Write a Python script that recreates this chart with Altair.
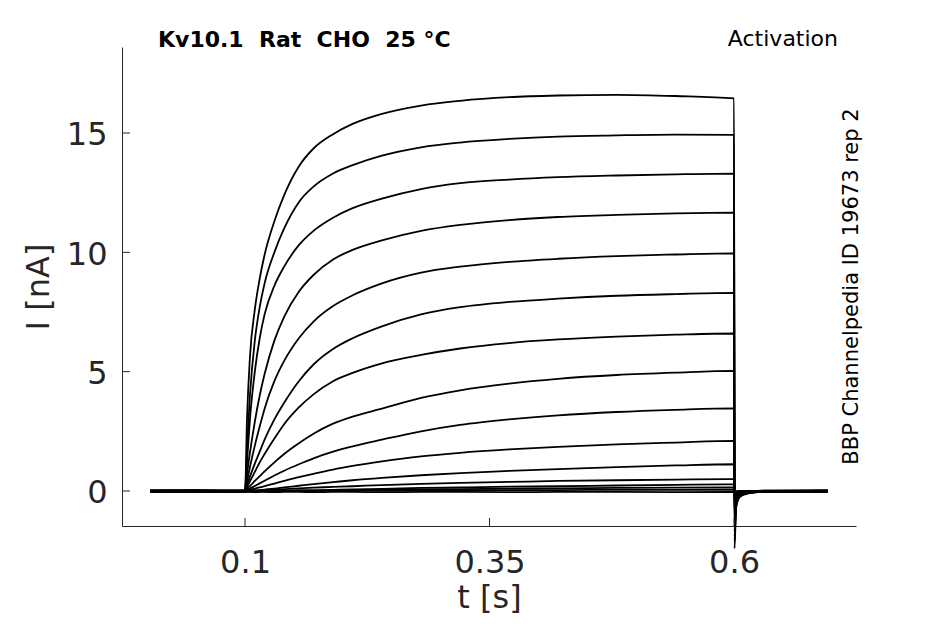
import altair as alt
import pandas as pd

# time grid in seconds (shared by all sweeps)
time_s = [0.003, 0.05, 0.1, 0.102, 0.105, 0.11, 0.115, 0.12, 0.13, 0.14, 0.155, 0.17, 0.19, 0.21,
          0.24, 0.28, 0.32, 0.37, 0.42, 0.48, 0.54, 0.6, 0.6005, 0.602, 0.604, 0.607, 0.612, 0.62,
          0.63, 0.696]

# current in nA, one list per sweep
sweep_01 = [0.00, 0.01, 0.00, 3.0, 5.6, 7.6, 8.9, 9.9, 11.3, 12.4, 13.6, 14.35, 14.95, 15.38, 15.8, 16.15, 16.35, 16.5, 16.57, 16.6, 16.55, 16.45, -2.4, -0.75, -0.38, -0.22, -0.13, -0.07, -0.03, 0.00]
sweep_02 = [-0.02, -0.01, -0.02, 1.8, 4.0, 6.3, 7.7, 8.7, 10.0, 11.0, 12.1, 12.75, 13.3, 13.65, 14.05, 14.4, 14.6, 14.75, 14.85, 14.9, 14.93, 14.92, -2.1, -0.68, -0.35, -0.2, -0.12, -0.06, -0.03, -0.02]
sweep_03 = [0.01, 0.02, 0.01, 1.2, 3.0, 5.0, 6.4, 7.4, 8.6, 9.4, 10.3, 10.9, 11.45, 11.85, 12.25, 12.65, 12.9, 13.05, 13.15, 13.22, 13.27, 13.3, -1.9, -0.62, -0.32, -0.18, -0.11, -0.06, -0.02, 0.01]
sweep_04 = [-0.03, -0.02, -0.03, 0.7, 1.6, 2.9, 4.0, 4.9, 6.3, 7.3, 8.35, 9.05, 9.7, 10.1, 10.5, 10.9, 11.15, 11.35, 11.48, 11.57, 11.63, 11.66, -1.7, -0.55, -0.28, -0.16, -0.1, -0.05, -0.03, -0.03]
sweep_05 = [0.02, 0.01, 0.02, 0.4, 1.0, 1.9, 2.7, 3.45, 4.6, 5.45, 6.4, 7.1, 7.75, 8.2, 8.7, 9.15, 9.4, 9.6, 9.73, 9.84, 9.91, 9.96, -1.5, -0.48, -0.25, -0.15, -0.09, -0.04, 0.0, 0.02]
sweep_06 = [-0.01, 0.0, -0.01, 0.25, 0.6, 1.15, 1.65, 2.15, 3.0, 3.7, 4.6, 5.3, 5.95, 6.4, 6.9, 7.4, 7.7, 7.92, 8.06, 8.18, 8.25, 8.3, -1.3, -0.42, -0.22, -0.13, -0.08, -0.04, -0.02, -0.01]
sweep_07 = [-0.04, -0.03, -0.04, 0.15, 0.4, 0.8, 1.2, 1.55, 2.2, 2.8, 3.5, 4.05, 4.6, 4.95, 5.35, 5.7, 5.97, 6.2, 6.35, 6.47, 6.55, 6.6, -1.1, -0.36, -0.19, -0.12, -0.08, -0.05, -0.04, -0.04]
sweep_08 = [0.0, 0.01, 0.0, 0.08, 0.2, 0.42, 0.62, 0.82, 1.2, 1.55, 2.0, 2.4, 2.82, 3.12, 3.45, 3.9, 4.22, 4.5, 4.7, 4.86, 4.96, 5.03, -0.9, -0.3, -0.16, -0.1, -0.06, -0.03, -0.01, 0.0]
sweep_09 = [0.02, 0.03, 0.02, 0.04, 0.1, 0.21, 0.32, 0.43, 0.65, 0.85, 1.12, 1.37, 1.65, 1.87, 2.15, 2.5, 2.77, 3.0, 3.17, 3.31, 3.4, 3.46, -0.7, -0.24, -0.13, -0.08, -0.04, -0.01, 0.01, 0.02]
sweep_10 = [-0.02, -0.01, -0.02, 0.02, 0.05, 0.1, 0.15, 0.2, 0.31, 0.42, 0.58, 0.72, 0.9, 1.05, 1.24, 1.45, 1.6, 1.74, 1.85, 1.95, 2.03, 2.1, -0.5, -0.18, -0.1, -0.06, -0.04, -0.03, -0.02, -0.02]
sweep_11 = [-0.05, -0.04, -0.02, -0.01, 0.0, 0.02, 0.04, 0.06, 0.1, 0.15, 0.22, 0.29, 0.37, 0.45, 0.55, 0.66, 0.75, 0.84, 0.92, 1.0, 1.07, 1.12, -0.35, -0.14, -0.09, -0.07, -0.06, -0.05, -0.05, -0.05]
sweep_12 = [0.01, 0.02, 0.01, 0.01, 0.01, 0.02, 0.03, 0.04, 0.06, 0.08, 0.11, 0.14, 0.17, 0.2, 0.25, 0.3, 0.34, 0.38, 0.42, 0.45, 0.48, 0.5, -0.2, -0.08, -0.04, -0.02, -0.01, 0.0, 0.01, 0.01]
sweep_13 = [-0.03, -0.02, -0.03, -0.03, -0.03, -0.02, -0.02, -0.01, 0.0, 0.01, 0.02, 0.03, 0.05, 0.07, 0.09, 0.13, 0.15, 0.18, 0.2, 0.23, 0.26, 0.28, -0.12, -0.06, -0.04, -0.03, -0.03, -0.03, -0.03, -0.03]
sweep_14 = [0.0, 0.01, 0.0, 0.0, 0.0, 0.0, 0.0, 0.0, 0.01, 0.01, 0.02, 0.02, 0.03, 0.04, 0.05, 0.07, 0.08, 0.1, 0.11, 0.13, 0.14, 0.15, -0.06, -0.02, -0.01, 0.0, 0.0, 0.0, 0.0, 0.0]
sweep_15 = [-0.01, 0.0, -0.01, -0.01, -0.01, -0.01, -0.01, -0.01, -0.01, 0.0, 0.0, 0.0, 0.01, 0.01, 0.02, 0.02, 0.03, 0.04, 0.04, 0.05, 0.05, 0.06, -0.03, -0.02, -0.01, -0.01, -0.01, -0.01, -0.01, -0.01]
sweep_16 = [-0.04, -0.05, -0.04, -0.04, -0.04, -0.05, -0.04, -0.04, -0.05, -0.04, -0.04, -0.05, -0.04, -0.04, -0.05, -0.04, -0.04, -0.05, -0.04, -0.04, -0.05, -0.04, -0.06, -0.05, -0.04, -0.04, -0.05, -0.04, -0.04, -0.05]

x_ticks = [0.1, 0.35, 0.6]
y_ticks = [0, 5, 10, 15]
x_domain = [-0.0258, 0.7247]
y_domain = [-1.4665, 18.603]

title_text = "Kv10.1 \u00a0Rat \u00a0CHO \u00a025 °C"
protocol_text = "Activation"
source_text = "BBP Channelpedia ID 19673 rep 2"

sweeps = [sweep_01, sweep_02, sweep_03, sweep_04, sweep_05, sweep_06, sweep_07, sweep_08,
          sweep_09, sweep_10, sweep_11, sweep_12, sweep_13, sweep_14, sweep_15, sweep_16]
rows = []
for k, s in enumerate(sweeps):
    for t, v in zip(time_s, s):
        rows.append({"t": t, "I": v, "sweep": k + 1})
df = pd.DataFrame(rows)

FONT = "DejaVu Sans"
INK = "#262626"

xscale = alt.Scale(domain=x_domain, nice=False, zero=False)
yscale = alt.Scale(domain=y_domain, nice=False, zero=False)

x_axis = alt.Axis(values=x_ticks, format=".2~f", title="t [s]", grid=False, ticks=False,
                  tickSize=0, labelPadding=21, labelFontSize=32, labelFont=FONT,
                  labelColor=INK, domainColor=INK, domainWidth=1,
                  titleFont=FONT, titleFontSize=32, titleColor=INK, titleFontWeight="normal",
                  titleX=367, titleY=81.5, titleBaseline="alphabetic", titleAlign="center")
y_axis = alt.Axis(values=y_ticks, format="d", title="I [nA]", grid=False, ticks=False,
                  tickSize=0, labelPadding=15, labelOffset=2, labelFontSize=32, labelFont=FONT,
                  labelColor=INK, domainColor=INK, domainWidth=1,
                  titleFont=FONT, titleFontSize=32, titleColor=INK, titleFontWeight="normal",
                  titleX=-74, titleY=239.5, titleAngle=270, titleBaseline="alphabetic",
                  titleAlign="center")

traces = alt.Chart(df).mark_line(color="black", strokeWidth=1.8, interpolate="monotone").encode(
    x=alt.X("t:Q", scale=xscale, axis=x_axis),
    y=alt.Y("I:Q", scale=yscale, axis=y_axis),
    detail="sweep:N",
)

xt = alt.Chart(pd.DataFrame({"t": x_ticks})).mark_rule(color=INK, strokeWidth=1).encode(
    x=alt.X("t:Q", scale=xscale, axis=x_axis),
    y=alt.value(479), y2=alt.value(471),
)
yt = alt.Chart(pd.DataFrame({"I": y_ticks})).mark_rule(color=INK, strokeWidth=1).encode(
    y=alt.Y("I:Q", scale=yscale, axis=y_axis),
    x=alt.value(0), x2=alt.value(8),
)

title_mark = alt.Chart(pd.DataFrame({"label": [title_text]})).mark_text(
    font=FONT, fontSize=22, fontWeight="bold", color="black", align="left", baseline="alphabetic"
).encode(text="label:N", x=alt.value(36), y=alt.value(0))

protocol_mark = alt.Chart(pd.DataFrame({"label": [protocol_text]})).mark_text(
    font=FONT, fontSize=22, color="black", align="right", baseline="alphabetic"
).encode(text="label:N", x=alt.value(716), y=alt.value(-1))

source_mark = alt.Chart(pd.DataFrame({"label": [source_text]})).mark_text(
    font=FONT, fontSize=21, color="black", align="center", baseline="alphabetic", angle=270
).encode(text="label:N", x=alt.value(736), y=alt.value(239.5))

chart = alt.layer(traces, xt, yt, title_mark, protocol_mark, source_mark).properties(
    width=734, height=479,
    autosize=alt.AutoSizeParams(type="none"),
    padding={"left": 114, "top": 39, "right": 70, "bottom": 90},
    background="white",
).configure_view(stroke=None)

chart.save("out.html", embed_options={"renderer": "svg", "actions": False})
